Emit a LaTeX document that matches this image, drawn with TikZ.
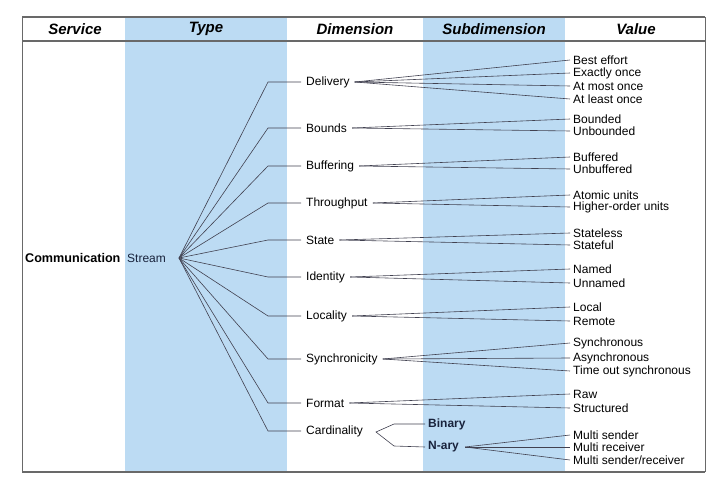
\documentclass[tikz,border=0pt]{standalone}
\usepackage{fontspec}
\setmainfont{Liberation Sans}
\definecolor{colblue}{RGB}{188,219,243}
\definecolor{rulegray}{RGB}{105,105,105}
\definecolor{linecol}{RGB}{65,65,80}
\definecolor{navy}{RGB}{25,35,60}
\begin{document}
\begin{tikzpicture}[x=1pt,y=-1pt,
  txt/.style={font=\fontsize{12}{13}\selectfont,inner xsep=0pt,inner ysep=1pt,anchor=west},
  dimnode/.style={txt,inner xsep=5pt},
  valnode/.style={txt,inner xsep=3pt},
  head/.style={font=\fontsize{15}{16}\selectfont\bfseries\itshape},
  conn/.style={draw=linecol,line width=0.6pt},
  frame/.style={draw=rulegray,line width=1.1pt}]
\useasboundingbox (0,0) rectangle (711,476);
% columns
\fill[colblue] (125,17) rectangle (287,472);
\fill[colblue] (423,17) rectangle (565,472);
% frame
\draw[frame] (22,17) -- (705,17);
\draw[frame] (22,41) -- (705,41);
\draw[frame] (22,472) -- (705,472);
\draw[frame,line width=0.6pt] (22,17) -- (22,472);
\draw[frame,line width=0.6pt] (705,17) -- (705,472);
% headers
\node[head] (hS) at (75,29) {Service};
\node[head] (hT) at (206,29) {Type};
\node[head] (hD) at (355,29) {Dimension};
\node[head] (hSD) at (494,29) {Subdimension};
\node[head] (hV) at (636,29) {Value};
% left
\node[txt,font=\fontsize{12.6}{13}\selectfont\bfseries] (comm) at (25,258) {Communication};
\node[txt,text=navy] (stream) at (127,258) {Stream};
\coordinate (fan) at (179,258);
% dimensions
\foreach \n/\t/\y in {del/Delivery/82, bou/Bounds/128, buf/Buffering/166, thr/Throughput/203,
  sta/State/240, ide/Identity/277, loc/Locality/316, syn/Synchronicity/359,
  for/Format/403, car/Cardinality/431}{
  \node[dimnode] (\n) at (301,\y) {\t};
  \coordinate (k\n) at (268,\y);
  \draw[conn] (fan) -- (k\n) -- (\n.west);
}
% values
\foreach \n/\t/\y/\d in {v1/Best effort/60/del, v2/Exactly once/73/del, v3/At most once/86/del, v4/At least once/99/del,
  v5/Bounded/119/bou, v6/Unbounded/131/bou,
  v7/Buffered/157/buf, v8/Unbuffered/169/buf,
  v9/Atomic units/195/thr, v10/Higher-order units/207/thr,
  v11/Stateless/233/sta, v12/Stateful/245/sta,
  v13/Named/269/ide, v14/Unnamed/283/ide,
  v15/Local/307/loc, v16/Remote/321/loc,
  v17/Synchronous/343/syn, v18/Asynchronous/358/syn, v19/Time out synchronous/371/syn,
  v20/Raw/394/for, v21/Structured/408/for}{
  \node[valnode] (\n) at (570,\y) {\t};
  \draw[conn] (\d.east) -- (\n.west);
}
% cardinality
\node[txt,font=\fontsize{12}{13}\selectfont\bfseries,text=navy,inner xsep=3pt] (bin) at (425,424) {Binary};
\node[txt,font=\fontsize{12}{13}\selectfont\bfseries,text=navy,inner xsep=3pt] (nary) at (425,447) {N-ary};
\coordinate (apex) at (376,432);
\coordinate (cb) at (394,424);
\coordinate (cn) at (394,446);
\draw[conn] (bin.west) -- (cb) -- (apex) -- (cn) -- (nary.west);
\foreach \n/\t/\y in {m1/Multi sender/435, m2/Multi receiver/447, m3/{Multi sender/receiver}/460}{
  \node[valnode] (\n) at (570,\y) {\t};
  \draw[conn] ([xshift=3pt]nary.east) -- (\n.west);
}
\end{tikzpicture}
\end{document}
